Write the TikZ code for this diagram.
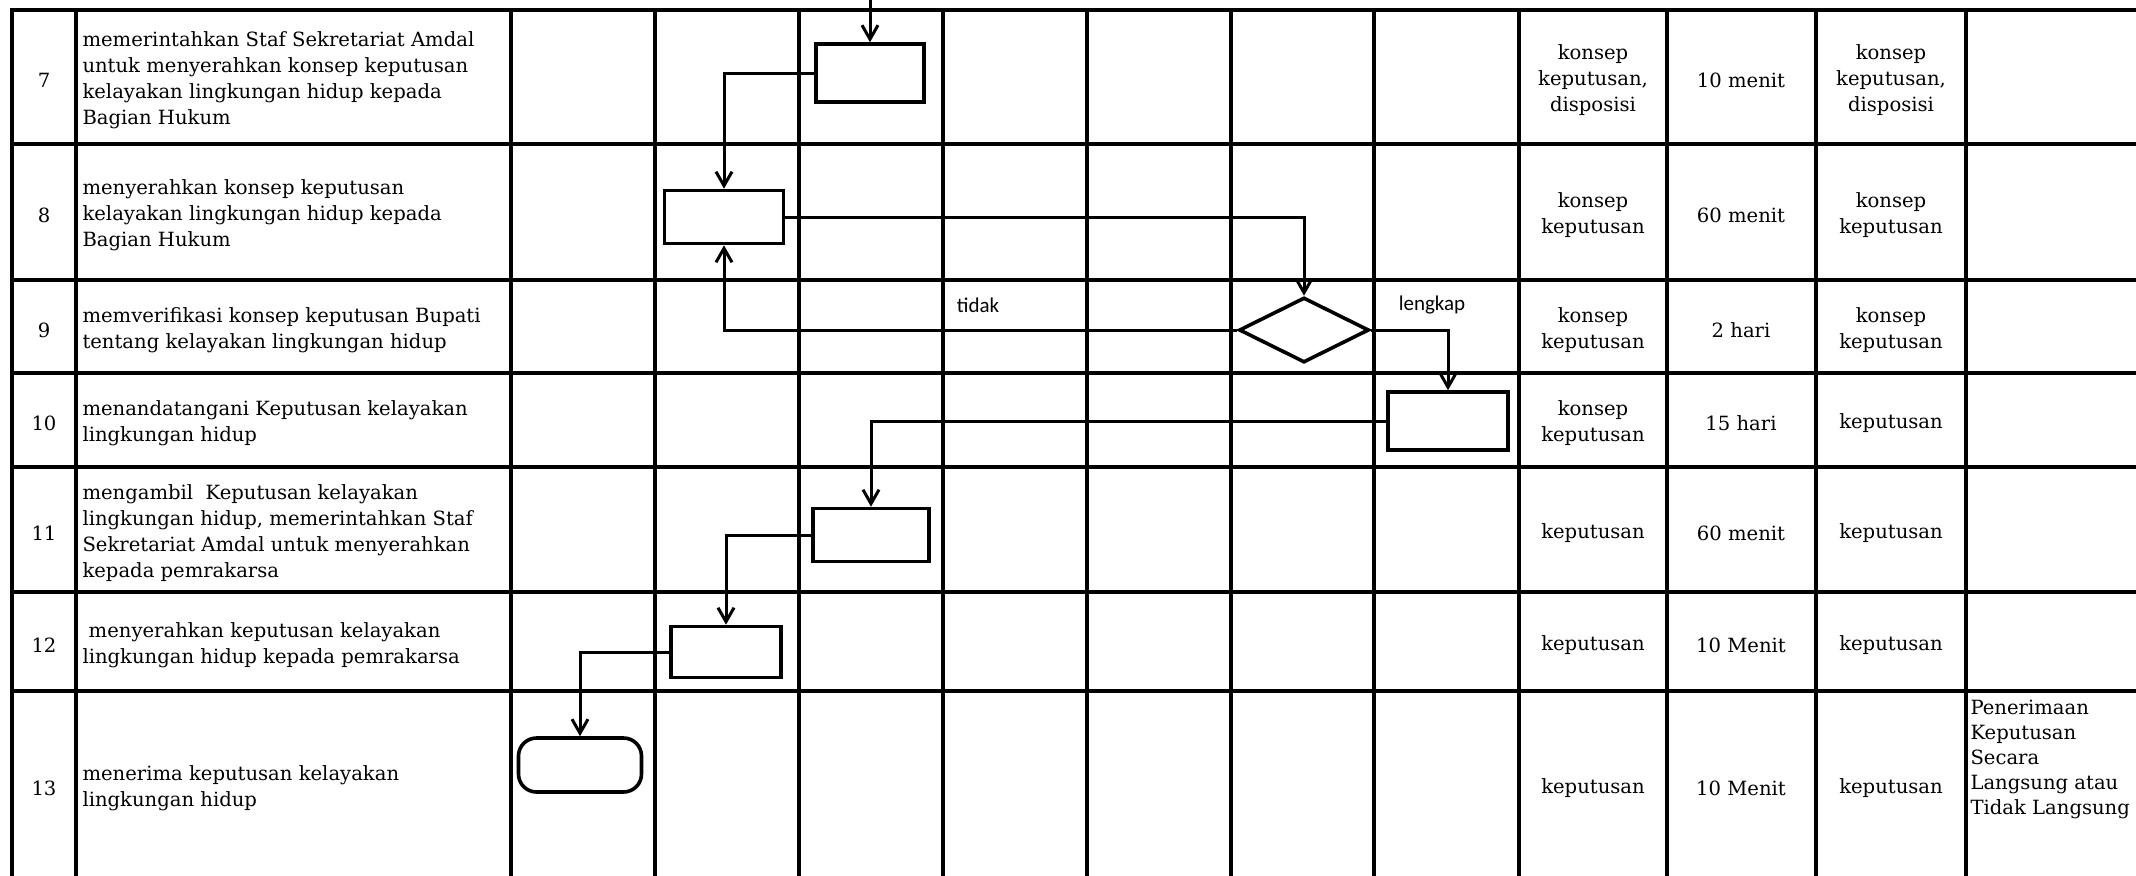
\documentclass[tikz,border=0pt]{standalone}
\usepackage{fontspec}
\setmainfont{DejaVu Serif}
\newfontfamily\labelfont{Carlito}
\usetikzlibrary{arrows.meta, shapes.geometric}
\tikzset{
  every picture/.style={line width=1.5pt},
  rule/.style={line width=1.6pt, line cap=rect},
  txt/.style={font=\fontsize{9.8pt}{13pt}\selectfont, inner sep=0pt, yshift=-1.5pt},
  num/.style={txt},
  desc/.style={txt, anchor=west, align=left},
  cell/.style={txt, align=center},
  note/.style={txt, anchor=north west, align=left, font=\fontsize{9.8pt}{12.5pt}\selectfont},
  proc/.style={draw, fill=white, line width=1.8pt, inner sep=0pt},
  decide/.style={draw, fill=white, diamond, line width=1.8pt, inner sep=0pt, minimum width=65pt, minimum height=32.5pt},
  term/.style={draw, fill=white, rounded corners=9pt, line width=1.8pt, inner sep=0pt, minimum width=61.5pt, minimum height=27pt},
  flow/.style={-{Straight Barb[length=7pt, width=8pt]}, line width=1.5pt},
  lbl/.style={font=\labelfont\fontsize{10.5pt}{12pt}\selectfont, inner sep=0pt},
}

\begin{document}
\begin{tikzpicture}[x=0.5pt, y=-0.5pt]
  \useasboundingbox (0,0) rectangle (2136,875);
  % table
  \foreach \y in {10,144,280,373,467,592,691}
    \draw[rule] (12,\y) -- (2136,\y);
  \foreach \x in {12,76,511,655,799,943,1087,1231,1374,1519,1667,1816,1966}
    \draw[rule] (\x,10) -- (\x,875);
  \foreach \r/\y/\what/\inp/\dur/\outp in {
      7/77/{memerintahkan Staf Sekretariat Amdal\\untuk menyerahkan konsep keputusan\\kelayakan lingkungan hidup kepada\\Bagian Hukum}/{konsep\\keputusan,\\disposisi}/{10 menit}/{konsep\\keputusan,\\disposisi},
      8/212/{menyerahkan konsep keputusan\\kelayakan lingkungan hidup kepada\\Bagian Hukum}/{konsep\\keputusan}/{60 menit}/{konsep\\keputusan},
      9/327/{memverifikasi konsep keputusan Bupati\\tentang kelayakan lingkungan hidup}/{konsep\\keputusan}/{2 hari}/{konsep\\keputusan},
      10/420/{menandatangani Keputusan kelayakan\\lingkungan hidup}/{konsep\\keputusan}/{15 hari}/{keputusan},
      11/530/{mengambil\ \ Keputusan kelayakan\\lingkungan hidup, memerintahkan Staf\\Sekretariat Amdal untuk menyerahkan\\kepada pemrakarsa}/{keputusan}/{60 menit}/{keputusan},
      12/642/{\ menyerahkan keputusan kelayakan\\lingkungan hidup kepada pemrakarsa}/{keputusan}/{10 Menit}/{keputusan},
      13/785/{menerima keputusan kelayakan\\lingkungan hidup}/{keputusan}/{10 Menit}/{keputusan}} {
    \node[num] (no\r) at (44,\y) {\r};
    \node[desc] (ds\r) at (81,\y) {\what};
    \node[cell] (in\r) at (1593,\y) {\inp};
    \node[cell] (du\r) at (1741,\y) {\dur};
    \node[cell] (ou\r) at (1891,\y) {\outp};
  }
  \node[note] (ket13) at (1969,696) {Penerimaan\\Keputusan\\Secara\\Langsung atau\\Tidak Langsung};
  % flow
  \coordinate (prev) at (870,0);
  \node[proc, minimum width=54pt, minimum height=29pt] (b7) at (870,73) {};
  \node[proc, minimum width=59.5pt, minimum height=26.5pt] (b8) at (724,217) {};
  \node[decide] (d9) at (1304,330) {};
  \node[proc, minimum width=60pt, minimum height=29pt] (b10) at (1448,421) {};
  \node[proc, minimum width=58pt, minimum height=26.5pt] (b11) at (871,535) {};
  \node[proc, minimum width=55pt, minimum height=25.5pt] (b12) at (726,652) {};
  \node[term] (t13) at (580,765) {};
  \draw[flow] (prev) -- (b7.north);
  \draw[flow] (b7.west) -| (b8.north);
  \draw[flow] (b8.east) -| (d9.north);
  \draw[flow] (d9.west) -| (b8.south);
  \draw[flow] (d9.east) -| (b10.north);
  \draw[flow] (b10.west) -| (b11.north);
  \draw[flow] (b11.west) -| (b12.north);
  \draw[flow] (b12.west) -| (t13.north);
  \node[lbl] (tidak) at (978,305) {tidak};
  \node[lbl] (lengkap) at (1432,305) {lengkap};
\end{tikzpicture}
\end{document}
